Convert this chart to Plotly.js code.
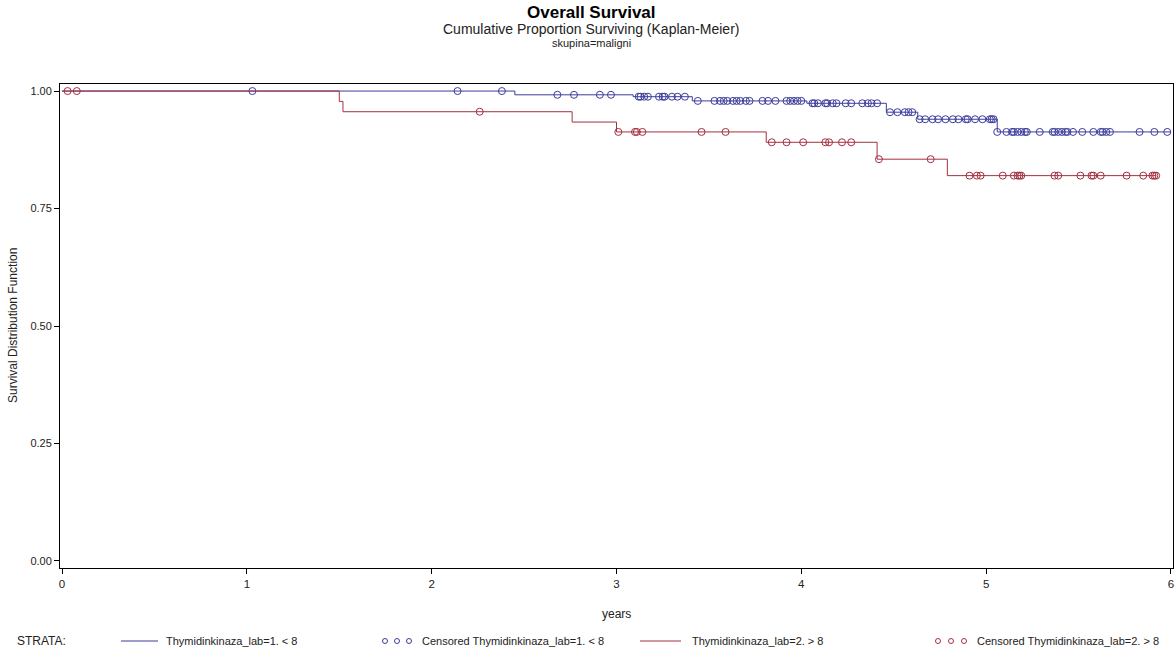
<!DOCTYPE html>
<html>
<head>
<meta charset="utf-8">
<script src="https://cdn.plot.ly/plotly-3.0.1.min.js"></script>
<style>html,body{margin:0;padding:0;background:#fff;}#chart{width:1175px;height:649px;}</style>
</head>
<body>
<div id="chart"></div>
<script>
// ---- Data ----
// Stratum 1: Thymidinkinaza_lab=1. < 8  (step function)
var blueTimes = [0, 2.45, 3.09, 3.41, 4.03, 4.46, 4.63, 5.06, 6.0];
var blueSurv  = [1.0, 0.992, 0.988, 0.979, 0.974, 0.955, 0.940, 0.913, 0.913];
// Stratum 1 censored times
var blueCens = [1.03, 2.14, 2.38,
  2.68, 2.77, 2.91, 2.97,
  3.12, 3.13, 3.15, 3.17, 3.23, 3.25, 3.26, 3.30, 3.33, 3.37,
  3.44, 3.53, 3.56, 3.58, 3.60, 3.63, 3.65, 3.67, 3.70, 3.72, 3.79, 3.82, 3.86, 3.92, 3.94, 3.96, 3.98, 4.00,
  4.06, 4.07, 4.09, 4.13, 4.14, 4.17, 4.19, 4.24, 4.27, 4.33, 4.36, 4.38, 4.41,
  4.48, 4.52, 4.56, 4.58, 4.60,
  4.64, 4.67, 4.71, 4.74, 4.78, 4.82, 4.85, 4.89, 4.90, 4.94, 4.98, 5.02, 5.03, 5.04,
  5.06, 5.11, 5.14, 5.15, 5.17, 5.19, 5.21, 5.22, 5.29, 5.36, 5.37, 5.39, 5.41, 5.43, 5.44, 5.47,
  5.52, 5.58, 5.62, 5.63, 5.65, 5.67, 5.83, 5.91, 5.98];

// Stratum 2: Thymidinkinaza_lab=2. > 8  (step function)
var redTimes = [0, 1.50, 1.52, 2.76, 3.00, 3.81, 4.41, 4.79, 5.92];
var redSurv  = [1.0, 0.978, 0.956, 0.934, 0.913, 0.891, 0.855, 0.820, 0.820];
// Stratum 2 censored times
var redCens = [0.03, 0.08, 2.26,
  3.01, 3.10, 3.11, 3.14, 3.46, 3.59,
  3.84, 3.92, 4.01, 4.13, 4.15, 4.22, 4.27,
  4.42, 4.70,
  4.91, 4.95, 4.97, 5.09, 5.15, 5.17, 5.18, 5.19, 5.37, 5.39, 5.51, 5.57, 5.58, 5.62, 5.76, 5.85, 5.90, 5.91, 5.92];

var xTicks = [0, 1, 2, 3, 4, 5, 6];
var yTicks = [0, 0.25, 0.5, 0.75, 1.0];

var legendLabels = ["Thymidinkinaza_lab=1. < 8", "Censored Thymidinkinaza_lab=1. < 8",
                    "Thymidinkinaza_lab=2. > 8", "Censored Thymidinkinaza_lab=2. > 8"];

// ---- Helpers ----
function survAt(times, surv, t) {
  var s = surv[0];
  for (var i = 0; i < times.length; i++) { if (times[i] <= t + 1e-9) s = surv[i]; }
  return s;
}

var BLUE = '#3c3c9c';
var RED = '#a3303f';
var FONT = 'Liberation Sans, Arial, sans-serif';

var traces = [
  {x: blueTimes, y: blueSurv, mode: 'lines', line: {shape: 'hv', color: BLUE, width: 1}, showlegend: false, hoverinfo: 'skip'},
  {x: blueCens, y: blueCens.map(function(t){return survAt(blueTimes, blueSurv, t);}), mode: 'markers',
   marker: {symbol: 'circle-open', size: 7, color: BLUE, line: {width: 1, color: BLUE}}, showlegend: false},
  {x: redTimes, y: redSurv, mode: 'lines', line: {shape: 'hv', color: RED, width: 1}, showlegend: false, hoverinfo: 'skip'},
  {x: redCens, y: redCens.map(function(t){return survAt(redTimes, redSurv, t);}), mode: 'markers',
   marker: {symbol: 'circle-open', size: 7, color: RED, line: {width: 1, color: RED}}, showlegend: false}
];

// plot area in pixels: left 60, right 1173, top 84, bottom 568
var L = 60, R = 1173, T = 84, B = 568, W = 1175, H = 649;
function px(xp) { return (xp - L) / (R - L); }
function py(yp) { return (B - yp) / (B - T); }

var legY = py(641);
var shapes = [
  {type: 'line', xref: 'paper', yref: 'paper', x0: px(121), x1: px(158), y0: legY, y1: legY, line: {color: BLUE, width: 1}},
  {type: 'line', xref: 'paper', yref: 'paper', x0: px(640), x1: px(681), y0: legY, y1: legY, line: {color: RED, width: 1}}
];
[385, 397, 409].forEach(function(c){
  shapes.push({type: 'circle', xref: 'paper', yref: 'paper', xsizemode: 'pixel', ysizemode: 'pixel',
    xanchor: px(c), yanchor: legY, x0: -2.5, x1: 2.5, y0: -2.5, y1: 2.5, line: {color: BLUE, width: 1}});
});
[938, 951, 964].forEach(function(c){
  shapes.push({type: 'circle', xref: 'paper', yref: 'paper', xsizemode: 'pixel', ysizemode: 'pixel',
    xanchor: px(c), yanchor: legY, x0: -2.5, x1: 2.5, y0: -2.5, y1: 2.5, line: {color: RED, width: 1}});
});

function ann(text, xpx, ypx, opts) {
  var a = {text: text, xref: 'paper', yref: 'paper', x: px(xpx), y: py(ypx), showarrow: false,
    xanchor: 'left', yanchor: 'middle', font: {family: FONT, size: 11, color: '#222'}};
  for (var k in opts) a[k] = opts[k];
  return a;
}

var annotations = [
  ann('<b>Overall Survival</b>', 591, 12, {xanchor: 'center', font: {family: FONT, size: 17, color: '#000'}}),
  ann('Cumulative Proportion Surviving (Kaplan-Meier)', 591, 29, {xanchor: 'center', font: {family: FONT, size: 14, color: '#222'}}),
  ann('skupina=maligni', 591, 43, {xanchor: 'center', font: {family: FONT, size: 11, color: '#222'}}),
  ann('years', 616, 614, {xanchor: 'center', font: {family: FONT, size: 12, color: '#222'}}),
  ann('Survival Distribution Function', 13, 326, {xanchor: 'center', textangle: -90, font: {family: FONT, size: 12, color: '#222'}}),
  ann('STRATA:', 15, 641, {font: {family: FONT, size: 12, color: '#222'}}),
  ann(legendLabels[0], 164, 641, {}),
  ann(legendLabels[1], 420, 641, {}),
  ann(legendLabels[2], 690, 641, {}),
  ann(legendLabels[3], 975, 641, {})
];

var layout = {
  width: W, height: H,
  margin: {l: L, r: W - R, t: T, b: H - B, pad: 0},
  paper_bgcolor: '#fff', plot_bgcolor: '#fff',
  font: {family: FONT, size: 11, color: '#222'},
  showlegend: false,
  xaxis: {range: [-0.011, 6.011], tickvals: xTicks, ticktext: xTicks.map(String),
    showgrid: false, zeroline: false, showline: true, mirror: true, linecolor: '#000', linewidth: 1,
    ticks: 'outside', ticklen: 5, tickcolor: '#000', tickfont: {family: FONT, size: 11.5, color: '#222'}},
  yaxis: {range: [-0.015, 1.015], tickvals: yTicks, ticktext: yTicks.map(function(v){return v.toFixed(2);}),
    showgrid: false, zeroline: false, showline: true, mirror: true, linecolor: '#000', linewidth: 1,
    ticks: 'outside', ticklen: 5, tickcolor: '#000', tickfont: {family: FONT, size: 11, color: '#222'}},
  shapes: shapes,
  annotations: annotations
};

Plotly.newPlot('chart', traces, layout, {displayModeBar: false, staticPlot: true});
</script>
</body>
</html>
